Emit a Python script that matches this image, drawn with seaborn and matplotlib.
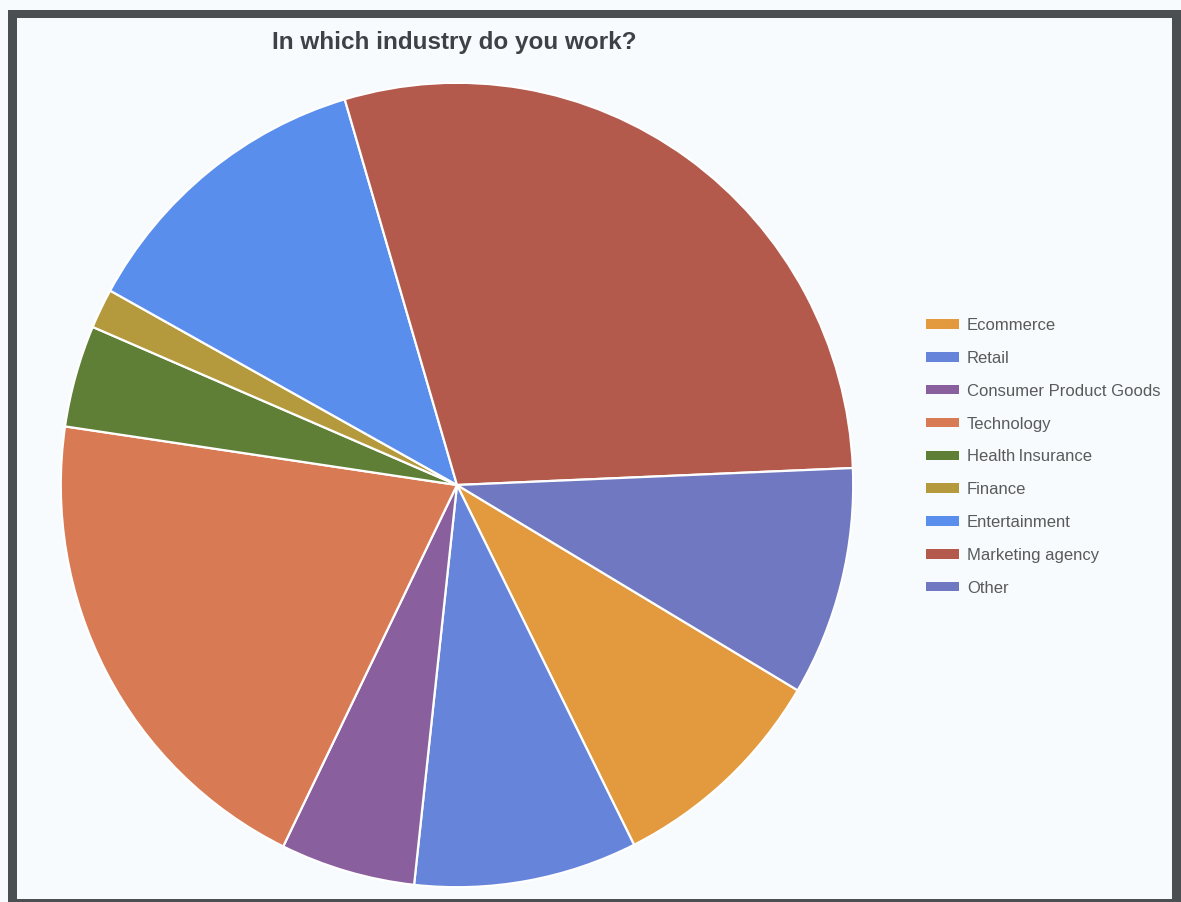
import matplotlib
matplotlib.use("Agg")
import matplotlib.pyplot as plt
from matplotlib.patches import Rectangle, Patch
import seaborn as sns

# Survey answers: share of respondents per industry (%)
industries = ["Ecommerce", "Retail", "Consumer Product Goods", "Technology",
              "Health\u2009Insurance", "Finance", "Entertainment",
              "Marketing agency", "Other"]
shares = [9.1, 9.1, 5.5, 20.1, 4.1, 1.6, 12.4, 28.9, 9.2]
title_text = "In which industry do you work?"

colors = ["#E39A3E", "#6685DA", "#8A5F9E", "#D87B55", "#5E7F35",
          "#B59A3D", "#5A8EED", "#B35A4D", "#6F78C0"]

sns.set_style("white")
plt.rcParams["font.family"] = ["Liberation Sans", "DejaVu Sans"]

bg = "#F7FBFE"
fig = plt.figure(figsize=(11.81, 9.02), dpi=100, facecolor=bg)

W, H = 1181, 902
cx, cy, rx, ry = 457, 485, 397, 403
ax = fig.add_axes([(cx - rx) / W, (H - cy - ry) / H, 2 * rx / W, 2 * ry / H])
ax.set_facecolor(bg)
ax.pie(shares, colors=sns.color_palette(colors), startangle=-30.7,
       counterclock=False, radius=1.0,
       wedgeprops=dict(edgecolor="white", linewidth=1.6))
ax.set_aspect("auto")
ax.set_xlim(-1.002, 1.002)
ax.set_ylim(-1.002, 1.002)
ax.axis("off")

fig.text(454 / W, 1 - 43 / H, title_text, ha="center", va="center",
         fontsize=17.5, fontweight="bold", color="#3D4246")

handles = [Patch(facecolor=c, edgecolor="none") for c in colors]
fig.legend(handles, industries, loc="upper left",
           bbox_to_anchor=(926 / W, 1 - 318 / H), frameon=False,
           fontsize=12, labelcolor="#5A5A5A", handlelength=1.95,
           handleheight=0.5, handletextpad=0.5, labelspacing=1.07,
           borderaxespad=0, borderpad=0)

# dark frame around the chart area, each side with its own thickness
frame_color = "#4A4F52"
for (x0, y0, w, h) in [(8, 10, 9, 892), (8, 10, 1173, 8),
                       (1172, 10, 9, 892), (8, 899, 1173, 3)]:
    fig.add_artist(Rectangle((x0 / W, 1 - (y0 + h) / H), w / W, h / H,
                             transform=fig.transFigure, facecolor=frame_color,
                             edgecolor="none"))

fig.savefig("out.png", dpi=100, facecolor=bg)
